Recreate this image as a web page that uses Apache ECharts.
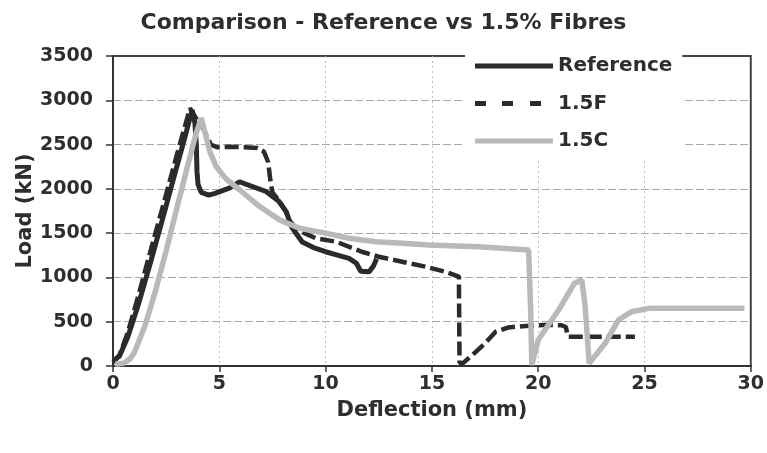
<!DOCTYPE html>
<html>
<head>
<meta charset="utf-8">
<script src="https://cdn.jsdelivr.net/npm/echarts@6/dist/echarts.min.js"></script>
<style>html,body{margin:0;padding:0;background:#fff;}#c{width:767px;height:453px;}</style>
</head>
<body>
<div id="c"></div>
<script>
// Reference (solid, dark)
var refX = [0, 0.3, 0.7, 1.2, 1.8, 2.4, 3.0, 3.4, 3.72, 3.85, 3.92, 3.95, 4.0, 4.15, 4.5, 4.8, 5.5, 5.95, 6.5, 7.2, 7.8, 8.15, 8.4, 8.9, 9.5, 10.0, 10.6, 11.1, 11.45, 11.65, 12.05, 12.25, 12.4];
var refY = [60, 110, 330, 700, 1200, 1720, 2250, 2600, 2890, 2750, 2500, 2200, 2050, 1960, 1930, 1950, 2010, 2080, 2030, 1970, 1860, 1740, 1570, 1400, 1330, 1290, 1250, 1216, 1160, 1070, 1064, 1130, 1210];
// 1.5F (dashed, dark)
var f15X = [0, 0.3, 0.7, 1.2, 1.8, 2.4, 3.0, 3.4, 3.62, 3.9, 4.2, 4.4, 4.6, 4.9, 5.5, 6.2, 6.8, 7.1, 7.3, 7.4, 7.5, 7.8, 8.15, 8.3, 8.6, 9.0, 9.55, 10.5, 11.7, 12.5, 13.6, 14.7, 15.64, 16.27, 16.3, 16.45, 16.9, 17.5, 18.0, 18.6, 19.4, 20.3, 21.1, 21.3, 21.4, 22.5, 24.55];
var f15Y = [40, 120, 380, 800, 1330, 1850, 2380, 2720, 2910, 2800, 2700, 2600, 2500, 2470, 2475, 2470, 2460, 2420, 2300, 2100, 1960, 1870, 1740, 1640, 1560, 1500, 1442, 1403, 1290, 1234, 1177, 1121, 1064, 1010, 40, 30, 124, 256, 387, 436, 452, 463, 460, 440, 331, 331, 331];
// 1.5C (solid, light grey)
var c15X = [0.1, 0.5, 0.8, 1.0, 1.5, 2.0, 2.5, 3.0, 3.5, 3.9, 4.15, 4.4, 4.55, 4.86, 5.33, 5.95, 6.9, 7.83, 8.77, 10.0, 11.1, 12.36, 13.6, 14.86, 17.2, 19.55, 19.65, 19.7, 20.0, 20.96, 21.7, 22.05, 22.2, 22.4, 23.15, 23.77, 24.4, 25.2, 27.05, 29.7];
var c15Y = [20, 30, 80, 150, 450, 850, 1300, 1780, 2250, 2620, 2800, 2570, 2420, 2250, 2110, 1990, 1800, 1650, 1555, 1500, 1442, 1403, 1385, 1366, 1347, 1310, 600, 10, 293, 632, 933, 970, 700, 30, 256, 519, 613, 651, 651, 651];

var seriesNames = ['Reference', '1.5F', '1.5C'];
var xTicks = {min: 0, max: 30, interval: 5};
var yTicks = {min: 0, max: 3500, interval: 500};

function zip(xs, ys) { return xs.map(function (x, i) { return [x, ys[i]]; }); }

var FONT = 'DejaVu Sans';
var TXT = '#2e2e2e';
var DARK = '#2b2b2b';
var GREY = '#b9b9b9';
var chart = echarts.init(document.getElementById('c'), null, {renderer: 'canvas'});
chart.setOption({
  backgroundColor: '#fff',
  animation: false,
  title: {
    text: 'Comparison - Reference vs 1.5% Fibres',
    left: 'center', top: 7,
    textStyle: {fontFamily: FONT, fontWeight: 'bold', fontSize: 22, color: TXT}
  },
  grid: {left: 113, right: 14, top: 56, bottom: 87, show: true, borderColor: '#444', borderWidth: 2, backgroundColor: 'transparent'},
  legend: {
    orient: 'vertical', left: 465, top: 48,
    padding: [8, 10, 8, 10],
    backgroundColor: '#fff',
    itemWidth: 78, itemHeight: 5, itemGap: 17.5,
    textStyle: {fontFamily: FONT, fontWeight: 'bold', fontSize: 20, color: TXT, lineHeight: 20},
    data: [
      {name: 'Reference', icon: 'rect', itemStyle: {color: DARK}},
      {name: '1.5F', icon: 'path://M0,0h11v5h-11zM27,0h11v5h-11zM55,0h11v5h-11zM78,0L78,5', itemStyle: {color: DARK}},
      {name: '1.5C', icon: 'rect', itemStyle: {color: GREY}}
    ]
  },
  xAxis: {
    type: 'value', min: xTicks.min, max: xTicks.max, interval: xTicks.interval,
    name: 'Deflection (mm)', nameLocation: 'middle', nameGap: 34, nameMoveOverlap: false,
    nameTextStyle: {fontFamily: FONT, fontWeight: 'bold', fontSize: 21, color: TXT},
    axisLine: {show: true, onZero: false, lineStyle: {color: '#333', width: 2}},
    axisTick: {show: true, inside: false, length: 6, lineStyle: {color: '#333', width: 1.5}},
    axisLabel: {margin: 9, fontFamily: FONT, fontWeight: 'bold', fontSize: 19, color: TXT,
      formatter: function (v) { return String(v); }},
    splitLine: {show: true, showMinLine: false, showMaxLine: false, lineStyle: {color: '#bdbdbd', type: [2, 3], width: 1}}
  },
  yAxis: {
    type: 'value', min: yTicks.min, max: yTicks.max, interval: yTicks.interval,
    name: 'Load (kN)', nameLocation: 'middle', nameGap: 77, nameRotate: 90, nameMoveOverlap: false,
    nameTextStyle: {fontFamily: FONT, fontWeight: 'bold', fontSize: 21, color: TXT},
    axisLine: {show: true, lineStyle: {color: '#333', width: 2}},
    axisTick: {show: true, inside: false, length: 7, lineStyle: {color: '#333', width: 1.5}},
    axisLabel: {margin: 20, fontFamily: FONT, fontWeight: 'bold', fontSize: 19, color: TXT,
      formatter: function (v) { return String(v); }},
    splitLine: {show: true, showMinLine: false, showMaxLine: false, lineStyle: {color: '#a8a8a8', type: [8, 3], width: 1}}
  },
  series: [
    {name: seriesNames[0], type: 'line', data: zip(refX, refY), symbol: 'none', smooth: false,
     lineStyle: {color: DARK, width: 5}, itemStyle: {color: DARK}},
    {name: seriesNames[1], type: 'line', data: zip(f15X, f15Y), symbol: 'none', smooth: false,
     lineStyle: {color: DARK, width: 4.5, type: [14, 5]}, itemStyle: {color: DARK}},
    {name: seriesNames[2], type: 'line', data: zip(c15X, c15Y), symbol: 'none', smooth: false,
     lineStyle: {color: GREY, width: 5.5}, itemStyle: {color: GREY}}
  ]
});
</script>
</body>
</html>
